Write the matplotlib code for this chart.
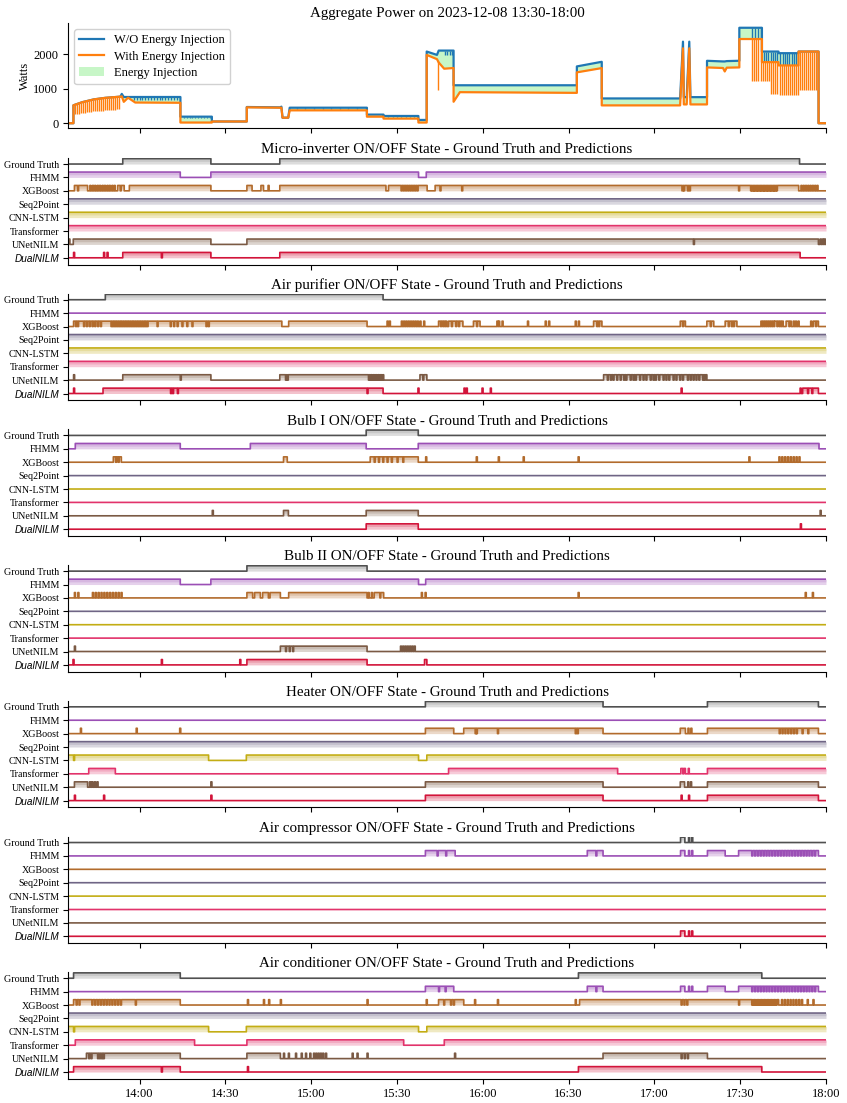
import matplotlib.pyplot as plt
import matplotlib.dates as mdates
from matplotlib.lines import Line2D
from matplotlib.patches import Patch
import numpy as np
import pandas as pd

plt.rcParams['font.family'] = ['Liberation Serif', 'DejaVu Serif']

START = pd.Timestamp('2023-12-08 13:30')
# every time value below is in minutes after 13:30

# ---- aggregate power (breakpoints) ----
agg_min = [5.0, 6.9, 6.9, 10.0, 14.0, 18.0, 23.3, 23.8, 24.5, 26.0, 28.5, 44.3, 44.3, 55.3,
           55.3, 67.5, 67.5, 79.2, 79.6, 80.0, 82.0, 82.5, 109.5, 109.5, 115.3, 115.3, 127.5,
           127.5, 130.4, 130.4, 134.0, 134.6, 136.5, 139.8, 139.8, 142.0, 182.9, 182.9, 191.6,
           191.6, 219.0, 220.0, 220.3, 221.3, 222.2, 222.6, 228.4, 228.4, 234.0, 234.6, 235.3,
           239.7, 239.7, 247.6, 247.6, 253.4, 253.4, 260.4, 260.4, 267.4, 267.4, 270.0]
agg_without = [0, 0, 520, 610, 690, 735, 770, 850, 760, 760, 760, 760, 190, 190,
               50, 50, 470, 460, 480, 160, 160, 450, 450, 250, 250, 210, 210,
               95, 95, 2077, 1980, 2105, 2105, 2105, 1100, 1100, 1100, 1646, 1780,
               718, 718, 2364, 756, 756, 2364, 756, 756, 1809, 1790, 1790, 1800,
               1810, 2766, 2766, 2077, 2077, 2030, 2030, 2077, 2077, 0, 0]
agg_with = [0, 0, 520, 610, 690, 735, 770, 780, 620, 740, 600, 593, 20, 20,
            50, 50, 460, 450, 450, 160, 160, 373, 373, 190, 190, 134, 134,
            20, 20, 1980, 1856, 1760, 1580, 1600, 622, 900, 880, 1474, 1598,
            517, 517, 2172, 545, 545, 2172, 545, 545, 1617, 1600, 1500, 1610,
            1617, 2440, 2440, 1770, 1770, 1675, 1675, 2077, 2077, 0, 0]

# short drops of the "with injection" curve: (minute, low watts)
with_dips = [(7.5, 260), (8.2, 270), (8.9, 280), (9.6, 290), (10.3, 300), (11.0, 310),
             (11.7, 320), (12.4, 330), (13.1, 335), (13.8, 340), (14.5, 345), (15.2, 350),
             (15.9, 355), (16.6, 360), (17.3, 365), (18.0, 370), (18.7, 375), (19.4, 380),
             (20.1, 385), (20.8, 390), (21.5, 395), (22.2, 400), (22.9, 400), (134.3, 957),
             (244.0, 1215), (244.8, 1215), (245.6, 1215), (246.4, 1215), (247.2, 1215),
             (248.0, 1215), (248.7, 1215), (249.4, 1215), (250.1, 1215), (250.8, 850),
             (251.5, 850), (252.2, 850), (252.9, 850), (253.9, 830), (254.6, 830),
             (255.3, 830), (256.0, 830), (256.7, 830), (257.4, 830), (258.1, 830),
             (258.8, 830), (259.5, 830), (260.2, 830), (261.0, 976), (261.7, 976),
             (262.4, 976), (263.1, 976), (263.8, 976), (264.5, 976), (265.2, 976),
             (265.9, 976), (266.6, 976)]
# short drops of the "without injection" curve
without_dips = [(28, 670), (29, 670), (30, 670), (31, 670), (32, 670), (33, 670), (34, 670),
                (35, 670), (36, 670), (37, 670), (38, 670), (39, 670), (40, 670), (41, 670),
                (42, 670), (43, 670), (45.5, 150), (46.5, 150), (47.5, 150), (48.5, 150),
                (49.5, 150), (50.5, 150), (51.5, 150), (52.5, 150), (53.5, 150), (54.5, 150),
                (85, 400), (88, 400), (91, 400), (94, 400), (97, 400), (100, 400), (103, 400),
                (106, 400), (117, 170), (118.5, 170), (120, 170), (121.5, 170), (123, 170),
                (124.5, 170), (126, 170), (136.8, 1990), (137.6, 1990), (138.4, 1990),
                (139.2, 1990), (244.0, 2440), (245.2, 2440), (246.4, 2440), (247.4, 2440),
                (248.2, 1770), (249.0, 1770), (249.8, 1770), (250.6, 1770), (251.4, 1770),
                (252.2, 1770), (253.0, 1770), (254.0, 1675), (254.8, 1675), (255.6, 1675),
                (256.4, 1675), (257.2, 1675), (258.0, 1675), (258.8, 1675), (259.6, 1675)]

# ---- ON/OFF states: (ON intervals, short ON pulses, short OFF dips) ----
MODELS = ['Ground Truth', 'FHMM', 'XGBoost', 'Seq2Point', 'CNN-LSTM', 'Transformer',
          'UNetNILM', 'DualNILM']
ALWAYS = [(5, 270)]

micro_inverter = {
    'Ground Truth': ([(24.1, 54.9), (79.0, 260.7)], [], []),
    'FHMM': ([(5, 44.2), (54.9, 127.5), (130.2, 270)], [], []),
    'XGBoost': ([(7.2, 11.8), (22.3, 24.6), (26.4, 54.9), (67.5, 69.3), (72.4, 73.3),
                 (79.0, 116.1), (117.0, 130.5), (133.3, 260.4)],
                [12.6, 13.5, 14.3, 15.2, 16.0, 16.9, 17.7, 18.6, 19.4, 20.3, 21.1, 74.9,
                 261.2, 262.0, 262.8, 263.6, 264.4, 265.2, 266.0, 266.8],
                [8.3, 23.2, 121.4, 122.2, 123.0, 123.8, 124.6, 125.4, 126.2, 127.0, 135.0,
                 142.6, 219.6, 220.2, 221.5, 222.2, 239.4, 243.6, 244.1, 244.6, 245.1, 245.6,
                 246.1, 246.6, 247.1, 247.6, 248.1, 248.6, 249.1, 249.6, 250.1, 250.6, 251.1,
                 251.6, 252.1, 252.6]),
    'Seq2Point': (ALWAYS, [], []),
    'CNN-LSTM': (ALWAYS, [], []),
    'Transformer': (ALWAYS, [], []),
    'UNetNILM': ([(5, 5.6), (6.8, 54.9), (67.5, 267.3)], [267.9, 268.7, 269.4], [223.6]),
    'DualNILM': ([(24.1, 54.9), (79.0, 260.9)], [6.9, 17.4, 18.6], [37.6]),
}

air_purifier = {
    'Ground Truth': ([(18.0, 115.1)], [], []),
    'FHMM': ([], [], []),
    'XGBoost': ([(6.9, 79.7), (82.1, 109.5), (134.5, 137.4), (138.0, 143.0), (146.7, 149.0),
                 (188.7, 191.6), (219.0, 220.8), (228.3, 230.7), (234.7, 238.8),
                 (252.0, 255.0), (256.0, 257.8), (265.5, 267.3)],
                [116.5, 117.3, 121.5, 122.3, 123.1, 123.9, 124.7, 125.5, 126.3, 127.1, 128.0,
                 129.3, 154.9, 155.5, 156.7, 165.6, 171.8, 173.0, 182.3, 183.4, 247.2, 247.9,
                 248.6, 249.3, 250.0, 250.7, 251.4, 258.5, 259.3, 260.2, 264.6],
                [7.6, 8.3, 10.4, 11.4, 12.4, 13.4, 14.3, 15.3, 16.3, 20.0, 20.6, 21.2, 21.8,
                 22.4, 23.0, 23.6, 24.2, 24.8, 25.4, 26.0, 26.6, 27.2, 27.8, 28.4, 29.0, 29.6,
                 30.2, 30.8, 31.4, 32.0, 32.6, 36.1, 40.7, 41.9, 43.1, 44.8, 46.5, 48.3, 53.2,
                 54.0, 135.2, 136.0, 136.7, 139.0, 140.5, 141.5, 147.8, 189.8, 190.5, 219.8,
                 229.5, 235.8, 236.9, 237.6, 252.8, 253.6, 254.3, 257.0, 266.3]),
    'Seq2Point': (ALWAYS, [], []),
    'CNN-LSTM': (ALWAYS, [], []),
    'Transformer': (ALWAYS, [], []),
    'UNetNILM': ([(24.1, 54.9), (79.0, 115.3), (128.0, 130.4), (192.2, 228.3)], [6.9],
                 [44.2, 81.0, 81.6, 110.0, 110.6, 111.2, 111.8, 112.4, 113.0, 113.6, 114.2,
                  114.8, 129.0, 193.5, 194.6, 195.5, 196.8, 198.0, 199.2, 200.0, 201.5, 202.5,
                  203.3, 204.8, 206.0, 207.0, 208.5, 209.5, 210.3, 211.5, 213.0, 214.0, 215.0,
                  216.5, 217.5, 218.8, 219.8, 221.5, 222.5, 223.5, 224.5, 225.5, 226.8, 227.5]),
    'DualNILM': ([(17.2, 115.1), (261.8, 267.3)],
                 [6.9, 127.3, 143.4, 144.2, 149.7, 152.6, 219.3, 260.9],
                 [40.8, 41.5, 43.2, 109.5, 263.5, 265.0]),
}

bulb_1 = {
    'Ground Truth': ([(109.2, 127.4)], [], []),
    'FHMM': ([(7.5, 44.2), (68.7, 109.2), (127.4, 267.5)], [], []),
    'XGBoost': ([(20.8, 23.6), (80.3, 81.6), (110.6, 127.4)],
                [130.0, 147.7, 155.4, 164.1, 183.3, 243.0, 253.5, 254.5, 255.5, 256.5, 257.5,
                 258.5, 259.5, 260.5],
                [21.6, 22.5, 112.0, 113.5, 115.0, 116.5, 118.0, 120.0, 122.0]),
    'Seq2Point': ([], [], []),
    'CNN-LSTM': ([], [], []),
    'Transformer': ([], [], []),
    'UNetNILM': ([(80.3, 82.0), (109.2, 127.4)], [55.4, 267.9], []),
    'DualNILM': ([(109.2, 127.4)], [261.0], []),
}

bulb_2 = {
    'Ground Truth': ([(67.5, 109.5)], [], []),
    'FHMM': ([(5, 44.2), (54.9, 127.5), (130.0, 270)], [], []),
    'XGBoost': ([(67.5, 69.5), (70.2, 72.2), (73.0, 75.0), (75.6, 79.2), (82.1, 109.5),
                 (112.0, 114.0), (114.3, 115.3)],
                [7.2, 8.4, 13.5, 14.5, 15.5, 16.5, 17.5, 18.5, 19.5, 20.5, 21.5, 22.5, 23.5,
                 109.9, 111.0, 128.5, 129.8, 183.3, 262.7, 265.2],
                []),
    'Seq2Point': ([], [], []),
    'CNN-LSTM': ([], [], []),
    'Transformer': ([], [], []),
    'UNetNILM': ([(79.2, 109.5)], [7.2, 121.2, 122.0, 122.8, 123.6, 124.4, 125.2, 126.0],
                 [81.0, 82.3, 83.5]),
    'DualNILM': ([(67.5, 109.5), (129.6, 130.4)], [6.7, 37.6, 65.0], []),
}

heater = {
    'Ground Truth': ([(129.9, 192.0), (228.5, 267.3)], [], []),
    'FHMM': ([], [], []),
    'XGBoost': ([(129.9, 139.8), (143.3, 192.0), (219.0, 220.8), (228.5, 267.3)],
                [9.3, 28.8, 44.0, 221.7, 222.7],
                [147.3, 147.7, 155.1, 182.3, 183.0, 253.6, 254.6, 255.6, 256.6, 257.6, 258.6,
                 259.6, 261.6, 263.6]),
    'Seq2Point': (ALWAYS, [], []),
    'CNN-LSTM': ([(5, 54.1), (67.3, 127.5), (130.4, 270)], [], [6.9]),
    'Transformer': ([(12.2, 21.5), (138.0, 197.1), (219.2, 220.8), (228.5, 270)], [221.8],
                    [219.9]),
    'UNetNILM': ([(7.2, 11.8), (129.9, 192.0), (219.0, 220.5), (228.5, 267.3)],
                 [12.5, 13.3, 14.2, 15.1, 54.9, 221.6, 222.6], []),
    'DualNILM': ([(129.9, 192.0), (228.5, 267.3)], [7.2, 17.4, 54.9, 219.3, 221.9], []),
}

fhmm_dense_dips = [244.0, 245.0, 246.0, 247.0, 248.0, 249.0, 250.0, 251.0, 252.0, 253.0,
                   254.0, 255.0, 256.0, 257.0, 258.0, 259.0, 260.0, 261.0, 262.0, 263.0,
                   264.0, 265.0, 266.0]

air_compressor = {
    'Ground Truth': ([(219.1, 220.6)], [221.9, 223.0], []),
    'FHMM': ([(129.9, 140.3), (186.5, 192.0), (219.1, 220.6), (228.5, 234.7), (239.4, 267.3)],
             [221.9, 223.0], [134.0, 137.0, 189.5] + fhmm_dense_dips),
    'XGBoost': ([], [], []),
    'Seq2Point': ([], [], []),
    'CNN-LSTM': ([], [], []),
    'Transformer': ([], [], []),
    'UNetNILM': ([], [], []),
    'DualNILM': ([(219.1, 220.6)], [221.9, 223.0], []),
}

air_conditioner = {
    'Ground Truth': ([(6.9, 44.2), (183.4, 247.5)], [], []),
    'FHMM': ([(129.9, 139.8), (186.5, 192.0), (219.1, 220.6), (228.5, 234.7), (239.4, 267.3)],
             [221.9, 223.0], [134.5, 136.8, 189.5] + fhmm_dense_dips),
    'XGBoost': ([(6.9, 44.2), (134.5, 143.3), (183.8, 253.4)],
                [67.7, 73.3, 75.1, 79.2, 109.5, 130.2, 147.1, 155.1, 182.3, 254.4, 255.4,
                 256.4, 257.4, 258.4, 259.4, 260.4, 261.4, 263.4, 265.4],
                [7.8, 8.8, 13.3, 14.3, 15.3, 16.3, 17.3, 18.3, 19.3, 20.3, 21.3, 22.3, 23.3,
                 28.5, 136.3, 138.7, 139.7, 219.3, 220.3, 221.3, 239.4, 244.0, 244.5, 245.0,
                 245.5, 246.0, 246.5, 247.0, 247.5, 248.0, 248.5, 249.0, 249.5, 250.0, 250.5,
                 251.0, 251.5, 252.0, 252.5]),
    'Seq2Point': (ALWAYS, [], []),
    'CNN-LSTM': ([(5, 54.1), (67.3, 127.5), (130.4, 270)], [], [6.9]),
    'Transformer': ([(7.5, 49.2), (67.5, 122.3), (136.5, 270)], [], []),
    'UNetNILM': ([(11.4, 44.2), (67.5, 79.2), (192.0, 228.5)],
                 [80.3, 82.0, 84.5, 86.5, 88.0, 89.5, 90.8, 91.6, 92.4, 93.2, 94.0, 95.0,
                  104.3, 106.0, 109.5, 140.1],
                 [12.2, 13.0, 15.3, 16.0, 16.7, 17.3, 219.3, 220.4, 221.5]),
    'DualNILM': ([(6.9, 44.2), (183.4, 247.5)], [67.7], [37.6]),
}

panels = [('Micro-inverter', micro_inverter), ('Air purifier', air_purifier),
          ('Bulb I', bulb_1), ('Bulb II', bulb_2), ('Heater', heater),
          ('Air compressor', air_compressor), ('Air conditioner', air_conditioner)]

line_colors = {'Ground Truth': '#505050', 'FHMM': '#9b4fb5', 'XGBoost': '#b26b2c',
               'Seq2Point': '#6f6585', 'CNN-LSTM': '#c3ad14', 'Transformer': '#e2336b',
               'UNetNILM': '#7b5a44', 'DualNILM': '#d2143a'}
fill_colors = dict(line_colors, **{'Ground Truth': '#7a7a7a'})


def to_minutes(m):
    return (START + pd.to_timedelta(np.asarray(m, dtype=float), unit='min')).to_numpy()


grid = np.arange(5.0, 270.0001, 0.05)
grid_t = to_minutes(grid)


def build_state(on, pulses, dips):
    s = np.zeros_like(grid)
    for a, b in on:
        s[(grid >= a) & (grid < b)] = 1
    for t in pulses:
        s[(grid >= t) & (grid < t + 0.35)] = 1
    for t in dips:
        s[(grid >= t) & (grid < t + 0.35)] = 0
    return s


def style_time_axis(ax, labels):
    ax.xaxis.set_major_locator(mdates.MinuteLocator(byminute=[0, 30]))
    ax.xaxis.set_major_formatter(mdates.DateFormatter('%H:%M'))
    ax.set_xlim(to_minutes(5.0), to_minutes(270.0))
    ax.tick_params(axis='x', labelsize=9, labelbottom=labels)
    ax.spines['top'].set_visible(False)
    ax.spines['right'].set_visible(False)


W, H = 847, 1103
left, width = 68 / W, (826 - 68) / W
fig = plt.figure(figsize=(W / 100, H / 100), dpi=100)

# ---- aggregate power panel ----
ax = fig.add_axes([left, 1 - 128 / H, width, 105 / H])
t_agg = to_minutes(agg_min)
ax.fill_between(t_agg, agg_with, agg_without, color='#90ee90', alpha=0.5, lw=0)
ax.plot(t_agg, agg_without, color='#1f77b4', lw=1.6)
dt, dl = zip(*without_dips)
ax.vlines(to_minutes(dt), dl, np.interp(dt, agg_min, agg_without), color='#1f77b4', lw=1.0)
ax.plot(t_agg, agg_with, color='#ff7f0e', lw=1.6)
dt, dl = zip(*with_dips)
ax.vlines(to_minutes(dt), dl, np.interp(dt, agg_min, agg_with), color='#ff7f0e', lw=1.0)
ax.set_ylabel('Watts', fontsize=9, labelpad=2)
ax.tick_params(axis='y', labelsize=9)
ax.set_title('Aggregate Power on 2023-12-08 13:30-18:00', fontsize=10.8, pad=4)
style_time_axis(ax, False)
handles = [Line2D([], [], color='#1f77b4', lw=1.6), Line2D([], [], color='#ff7f0e', lw=1.6),
           Patch(facecolor='#90ee90', alpha=0.5)]
ax.legend(handles, ['W/O Energy Injection', 'With Energy Injection', 'Energy Injection'],
          loc='upper left', fontsize=9, framealpha=0.9, borderpad=0.4, labelspacing=0.35,
          handlelength=2.0)

# ---- ON/OFF state panels ----
HEIGHT = 0.4
for k, (name, data) in enumerate(panels):
    top_px = 158 + k * 135.7
    ax = fig.add_axes([left, 1 - (top_px + 106.5) / H, width, 106.5 / H])
    offsets = []
    for i, model in enumerate(MODELS):
        base = len(MODELS) - 1 - i
        offsets.append(base)
        s = build_state(*data[model])
        y = base + HEIGHT * s
        ax.fill_between(grid_t, base, y, step='post', color=fill_colors[model], alpha=0.26, lw=0)
        ax.fill_between(grid_t, base + 0.5 * HEIGHT * s, y, step='post',
                        color=fill_colors[model], alpha=0.2, lw=0)
        ax.plot(grid_t, y, drawstyle='steps-post', color=line_colors[model], lw=1.2)
    ax.set_yticks(offsets)
    ax.set_yticklabels(MODELS, fontsize=7.2)
    ax.tick_params(axis='y', pad=2.5)
    for lab in ax.get_yticklabels():
        if lab.get_text() == 'DualNILM':
            lab.set_family(['Liberation Sans', 'DejaVu Sans'])
            lab.set_style('italic')
    ax.set_ylim(-0.5, 7.45)
    ax.set_title(f'{name} ON/OFF State - Ground Truth and Predictions', fontsize=10.8, pad=3.5)
    style_time_axis(ax, k == len(panels) - 1)

fig.savefig('out.png', dpi=100)
